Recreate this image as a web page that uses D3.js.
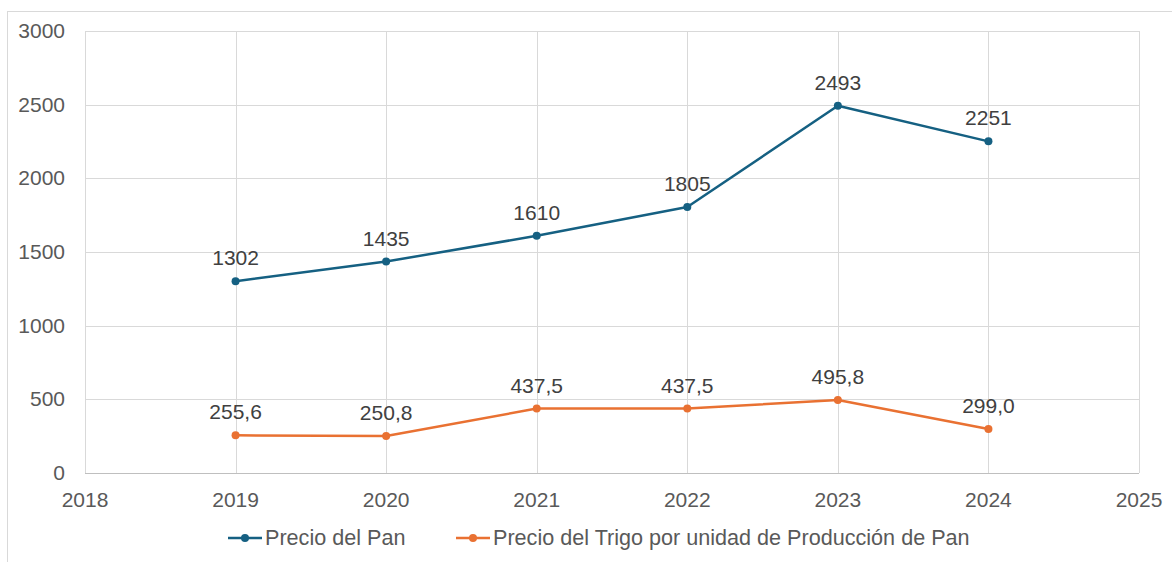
<!DOCTYPE html>
<html>
<head>
<meta charset="utf-8">
<script src="https://cdn.jsdelivr.net/npm/d3@7"></script>
<style>
  body { margin: 0; background: #fff; }
  text { font-family: "Liberation Sans", Arial, sans-serif; }
</style>
</head>
<body>
<div id="chart"></div>
<script>
// data
let years = [2019, 2020, 2021, 2022, 2023, 2024];
let precioPan = [1302, 1435, 1610, 1805, 2493, 2251];
let precioTrigo = [255.6, 250.8, 437.5, 437.5, 495.8, 299.0];
let seriesNames = ["Precio del Pan", "Precio del Trigo por unidad de Producción de Pan"];
let xTicks = [2018, 2019, 2020, 2021, 2022, 2023, 2024, 2025];
let yTicks = [0, 500, 1000, 1500, 2000, 2500, 3000];

let W = 1172, H = 562;
let margin = {top: 31, right: 33, bottom: 89, left: 85},
    width = W - margin.left - margin.right,
    height = H - margin.top - margin.bottom;

let colors = ["#156082", "#e97132"];
let fs = 21;

let svg = d3.select("#chart")
    .append("svg")
    .attr("width", W)
    .attr("height", H);

// outer chart border
svg.append("rect")
    .attr("x", 7.5).attr("y", 11.5)
    .attr("width", W + 10).attr("height", H)
    .attr("fill", "none")
    .attr("stroke", "#d9d9d9");

let g = svg.append("g")
    .attr("transform", "translate(" + margin.left + "," + margin.top + ")");

let x = d3.scaleLinear().domain([2018, 2025]).range([0, width]);
let y = d3.scaleLinear().domain([0, 3000]).range([height, 0]);

// gridlines
g.append("g")
    .selectAll("line")
    .data(yTicks)
    .enter().append("line")
    .attr("x1", 0).attr("x2", width)
    .attr("y1", d => Math.round(y(d)) + 0.5).attr("y2", d => Math.round(y(d)) + 0.5)
    .attr("stroke", "#d9d9d9");

g.append("g")
    .selectAll("line")
    .data(xTicks)
    .enter().append("line")
    .attr("x1", d => Math.round(x(d)) + 0.5).attr("x2", d => Math.round(x(d)) + 0.5)
    .attr("y1", 0).attr("y2", height)
    .attr("stroke", "#d9d9d9");

// bottom axis line
g.append("line")
    .attr("x1", 0).attr("x2", width)
    .attr("y1", Math.round(height) + 0.5).attr("y2", Math.round(height) + 0.5)
    .attr("stroke", "#bfbfbf");

// tick labels
g.append("g")
    .selectAll("text")
    .data(yTicks)
    .enter().append("text")
    .attr("x", -20)
    .attr("y", d => y(d) + 7)
    .attr("text-anchor", "end")
    .attr("font-size", fs)
    .attr("fill", "#595959")
    .text(d => d);

g.append("g")
    .selectAll("text")
    .data(xTicks)
    .enter().append("text")
    .attr("x", d => x(d))
    .attr("y", height + 34)
    .attr("text-anchor", "middle")
    .attr("font-size", fs)
    .attr("fill", "#595959")
    .text(d => d);

let line = d3.line()
    .x(d => x(d.year))
    .y(d => y(d.value));

let series = [precioPan, precioTrigo].map((vals, i) => ({
    name: seriesNames[i],
    color: colors[i],
    decimals: i === 1,
    points: vals.map((v, j) => ({year: years[j], value: v}))
}));

series.forEach(s => {
    g.append("path")
        .datum(s.points)
        .attr("d", line)
        .attr("fill", "none")
        .attr("stroke", s.color)
        .attr("stroke-width", 2.5)
        .attr("stroke-linejoin", "round");

    g.selectAll(null)
        .data(s.points)
        .enter().append("circle")
        .attr("cx", d => x(d.year))
        .attr("cy", d => y(d.value))
        .attr("r", 4)
        .attr("fill", s.color);

    g.selectAll(null)
        .data(s.points)
        .enter().append("text")
        .attr("x", d => x(d.year))
        .attr("y", d => y(d.value) - 16)
        .attr("text-anchor", "middle")
        .attr("font-size", fs)
        .attr("fill", "#404040")
        .text(d => s.decimals ? d.value.toFixed(1).replace(".", ",") : d.value);
});

// legend
let legendX = [228, 456];
let legend = svg.append("g");
series.forEach((s, i) => {
    let lg = legend.append("g").attr("transform", "translate(" + legendX[i] + ",538)");
    lg.append("line")
        .attr("x1", 0).attr("x2", 34)
        .attr("stroke", s.color).attr("stroke-width", 2.5);
    lg.append("circle").attr("cx", 17).attr("r", 4).attr("fill", s.color);
    lg.append("text")
        .attr("x", 37).attr("y", 7)
        .attr("font-size", 21.6)
        .attr("fill", "#595959")
        .text(s.name);
});
</script>
</body>
</html>
